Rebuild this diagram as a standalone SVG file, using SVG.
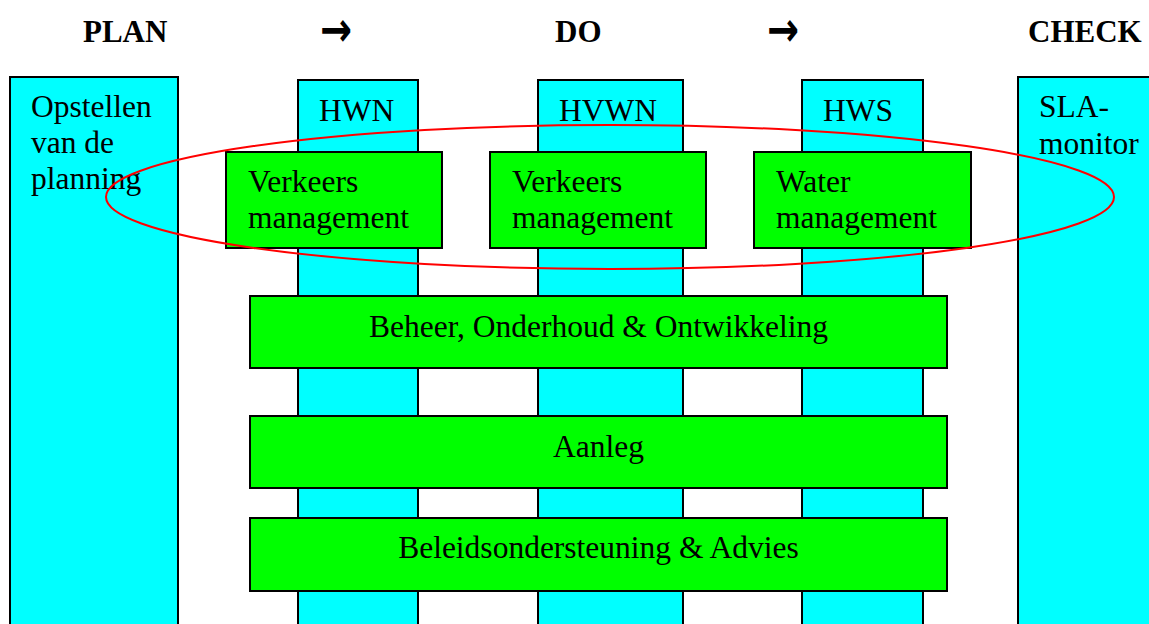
<svg xmlns="http://www.w3.org/2000/svg" width="1149" height="624" viewBox="0 0 1149 624">
  <style>
    .col { fill: #00FFFF; stroke: #000; stroke-width: 2; }
    .box { fill: #00FF00; stroke: #000; stroke-width: 2; }
    text { font-family: "Liberation Serif", "Times New Roman", serif; fill: #000; }
    .t { font-size: 31.5px; }
    .h { font-size: 31px; font-weight: bold; }
    .arr { font-family: "DejaVu Sans", sans-serif; font-size: 48px; font-weight: bold; }
    .mid { text-anchor: middle; }
  </style>
  <rect width="1149" height="624" fill="#fff"/>

  <!-- phase headings -->
  <g id="headings">
    <text class="h" x="83" y="42">PLAN</text>
    <text class="arr" x="320" y="45.5" textLength="32" lengthAdjust="spacingAndGlyphs">→</text>
    <text class="h" x="555" y="42">DO</text>
    <text class="arr" x="767" y="45.5" textLength="32" lengthAdjust="spacingAndGlyphs">→</text>
    <text class="h" x="1028" y="42">CHECK</text>
  </g>

  <!-- vertical columns -->
  <g id="plan">
    <rect class="col" x="10" y="77" width="168" height="560"/>
    <text class="t" x="31" y="117">Opstellen</text>
    <text class="t" x="31" y="153">van de</text>
    <text class="t" x="31" y="189">planning</text>
  </g>
  <g id="hwn">
    <rect class="col" x="298" y="80" width="120" height="560"/>
    <text class="t" x="319" y="121">HWN</text>
  </g>
  <g id="hvwn">
    <rect class="col" x="538" y="80" width="145" height="560"/>
    <text class="t" x="559" y="121">HVWN</text>
  </g>
  <g id="hws">
    <rect class="col" x="802" y="80" width="121" height="560"/>
    <text class="t" x="823" y="121">HWS</text>
  </g>
  <g id="check">
    <rect class="col" x="1018" y="77" width="160" height="560"/>
    <text class="t" x="1039" y="117">SLA-</text>
    <text class="t" x="1039" y="154">monitor</text>
  </g>

  <!-- management boxes -->
  <g id="vm-hwn">
    <rect class="box" x="226" y="152" width="216" height="96"/>
    <text class="t" x="248" y="192">Verkeers</text>
    <text class="t" x="248" y="228">management</text>
  </g>
  <g id="vm-hvwn">
    <rect class="box" x="490" y="152" width="216" height="96"/>
    <text class="t" x="512" y="192">Verkeers</text>
    <text class="t" x="512" y="228">management</text>
  </g>
  <g id="wm-hws">
    <rect class="box" x="754" y="152" width="217" height="96"/>
    <text class="t" x="776" y="192">Water</text>
    <text class="t" x="776" y="228">management</text>
  </g>

  <!-- horizontal bands -->
  <g id="beheer">
    <rect class="box" x="250" y="296" width="697" height="72"/>
    <text class="t mid" x="598.5" y="337">Beheer, Onderhoud &amp; Ontwikkeling</text>
  </g>
  <g id="aanleg">
    <rect class="box" x="250" y="416" width="697" height="72"/>
    <text class="t mid" x="598.5" y="457">Aanleg</text>
  </g>
  <g id="beleid">
    <rect class="box" x="250" y="518" width="697" height="73"/>
    <text class="t mid" x="598.5" y="558">Beleidsondersteuning &amp; Advies</text>
  </g>

  <!-- highlight around management row -->
  <g id="connectors">
    <ellipse cx="610" cy="197" rx="504" ry="72" fill="none" stroke="#FF0000" stroke-width="2"/>
  </g>
</svg>
